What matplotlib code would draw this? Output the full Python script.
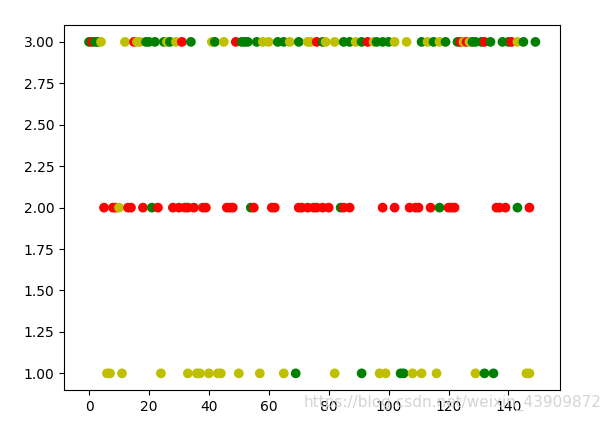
import numpy as np
import matplotlib
matplotlib.use('Agg')
import matplotlib.pyplot as plt

# sample index -> cluster label, coloured by true class
# cluster 1
c1_yellow = [6, 7, 11, 24, 33, 36, 37, 40, 43, 44, 50, 57, 65, 82, 97, 99, 108, 111, 116, 129, 146, 147]
c1_green = [69, 91, 104, 105, 132, 135]
# cluster 2
c2_red = [5, 8, 9, 13, 14, 18, 23, 28, 30, 32, 33, 35, 38, 39, 46, 47, 48, 55, 61, 62,
          70, 71, 73, 75, 76, 78, 80, 85, 87, 98, 102, 107, 109, 110, 114, 120, 121, 122,
          136, 137, 139, 147]
c2_yellow = [10]
c2_green = [21, 54, 84, 117, 143]
# cluster 3
c3_red = [1, 15, 31, 49, 76, 93, 124, 126, 132, 141]
c3_yellow = [4, 12, 16, 17, 26, 29, 41, 45, 58, 60, 67, 73, 74, 79, 82, 89, 95, 102, 106,
             113, 117, 125, 127, 143]
c3_green = [0, 2, 3, 19, 20, 22, 25, 27, 34, 42, 51, 52, 53, 56, 63, 65, 70, 78, 85, 87,
            91, 96, 98, 100, 111, 115, 119, 123, 128, 129, 131, 134, 138, 140, 145, 149]

groups = [
    (c1_yellow, 1, 'y'), (c1_green, 1, 'g'),
    (c2_red, 2, 'r'), (c2_yellow, 2, 'y'), (c2_green, 2, 'g'),
    (c3_red, 3, 'r'), (c3_yellow, 3, 'y'), (c3_green, 3, 'g'),
]

xs, ys, cs = [], [], []
for idx, label, col in groups:
    xs += idx
    ys += [label] * len(idx)
    cs += [col] * len(idx)

order = np.argsort(xs, kind='stable')
xs = np.array(xs)[order]
ys = np.array(ys)[order]
cs = np.array(cs)[order]

fig = plt.figure(figsize=(6.11, 4.22), dpi=100)
plt.subplots_adjust(left=0.105, right=0.9165, bottom=0.076, top=0.94)
plt.scatter(xs, ys, c=list(cs))
plt.xlim(-8.3, 157.2)

# blog watermark
fig.text(0.985, 0.045, 'https://blog.csdn.net/weixin_43909872', ha='right', va='center',
         fontsize=11, color='#d0d0d0', alpha=0.9)

plt.savefig('out.png')
